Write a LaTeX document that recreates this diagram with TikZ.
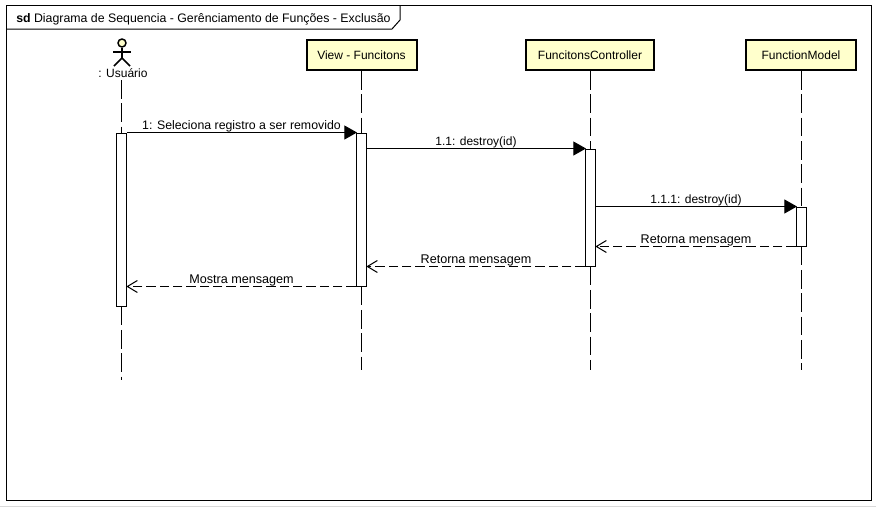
\documentclass[tikz,border=0pt]{standalone}
\usepackage{fontspec}
\setmainfont{Liberation Sans}
\usetikzlibrary{arrows.meta,calc}
\definecolor{boxfill}{HTML}{FFFFCC}
\tikzset{
  head/.style={draw,line width=1.5pt,fill=boxfill,minimum width=82.5pt,minimum height=22.5pt,inner sep=0pt},
  act/.style={draw,line width=0.75pt,fill=white,minimum width=8pt,inner sep=0pt},
  life/.style={line width=0.75pt,dash pattern=on 14pt off 3.5pt},
  call/.style={line width=0.75pt,shorten >=-1pt,-{Triangle[length=9.5pt,width=10.5pt]}},
  back/.style={line width=0.75pt,shorten >=-0.7pt,dash pattern=on 7pt off 3pt,-{Straight Barb[length=7.5pt,width=9pt,line width=0.75pt]}},
  lbl/.style={above,inner sep=0pt,yshift=-0.3pt,font=\fontsize{9}{11}\selectfont},
  widelbl/.style={lbl,font=\fontsize{9.45}{11}\selectfont},
}
\begin{document}
\begin{tikzpicture}[x=0.75pt,y=-0.75pt]
\useasboundingbox (0,0) rectangle (876,507);
\fill[gray!30] (0,505.5) rectangle (876,507);
% Frame and its title tab
\draw[line width=0.75pt] (6,5) rectangle (871,500);
\draw[line width=0.75pt] (6,29) -- (392,29) -- (400,20) -- (400,5);
\node[anchor=west,inner sep=0pt,font=\fontsize{9.25}{11}\selectfont] (title) at (16,19) {\textbf{sd} Diagrama de Sequencia - Gerênciamento de Funções - Exclusão};
% Heads of the lifelines
\node[head] (view) at (361.5,55) {\fontsize{9}{11}\selectfont View - Funcitons};
\node[head,minimum width=96pt] (ctrl) at (590,55) {\fontsize{9}{11}\selectfont FuncitonsController};
\node[head] (model) at (801,55) {\fontsize{9}{11}\selectfont FunctionModel};
% Actor
\node[draw,circle,line width=1.1pt,fill=boxfill,minimum size=6pt,inner sep=0pt] (usrhead) at (122,43) {};
\draw[line width=1.1pt] (usrhead.south) -- (122,58) coordinate (hip);
\draw[line width=1.1pt] (113,52) -- (131,52);
\draw[line width=1.1pt] (114,66) -- (hip) -- (130,66);
\node[inner sep=0pt,font=\fontsize{9}{11}\selectfont] (usrlbl) at (123,73) {: Usuário};
% Activation bars
\node[act,minimum height=129.75pt] (actusr) at (121.5,219.5) {};
\node[act,minimum height=114.75pt] (actview) at (361.5,209.5) {};
\node[act,minimum height=87.75pt] (actctrl) at (590.5,207.5) {};
\node[act,minimum height=29.25pt] (actmodel) at (801.5,226.5) {};
% Ends of the lifelines
\coordinate (usrend) at (121.5,380);
\coordinate (viewend) at (361.5,370);
\coordinate (ctrlend) at (590.5,370);
\coordinate (modelend) at (801.5,370);
\draw[life] (actusr.north |- 0,80) -- (actusr.north);
\draw[life] (actusr.south) -- (usrend);
\draw[life] (view.south -| actview) -- (actview.north);
\draw[life] (actview.south) -- (viewend);
\draw[life] (ctrl.south -| actctrl) -- (actctrl.north);
\draw[life] (actctrl.south) -- (ctrlend);
\draw[life] (model.south -| actmodel) -- (actmodel.north);
\draw[life] (actmodel.south) -- (modelend);
% Messages
\draw[call] (actusr.north east) -- node[lbl,font=\fontsize{9.25}{11}\selectfont] (m1) {1: Seleciona registro a ser removido} (actview.north west);
\draw[call] (actctrl.north west -| actview.east) -- node[lbl] (m2) {1.1: destroy(id)} (actctrl.north west);
\draw[call] (actmodel.north west -| actctrl.east) -- node[lbl] (m3) {1.1.1: destroy(id)} (actmodel.north west);
\draw[back] (actmodel.south west) -- node[widelbl] (m4) {Retorna mensagem} (actmodel.south west -| actctrl.east);
\draw[back] (actctrl.south west) -- node[widelbl] (m5) {Retorna mensagem} (actctrl.south west -| actview.east);
\draw[back] (actview.south west) -- node[widelbl] (m6) {Mostra mensagem} (actview.south west -| actusr.east);
\end{tikzpicture}
\end{document}
